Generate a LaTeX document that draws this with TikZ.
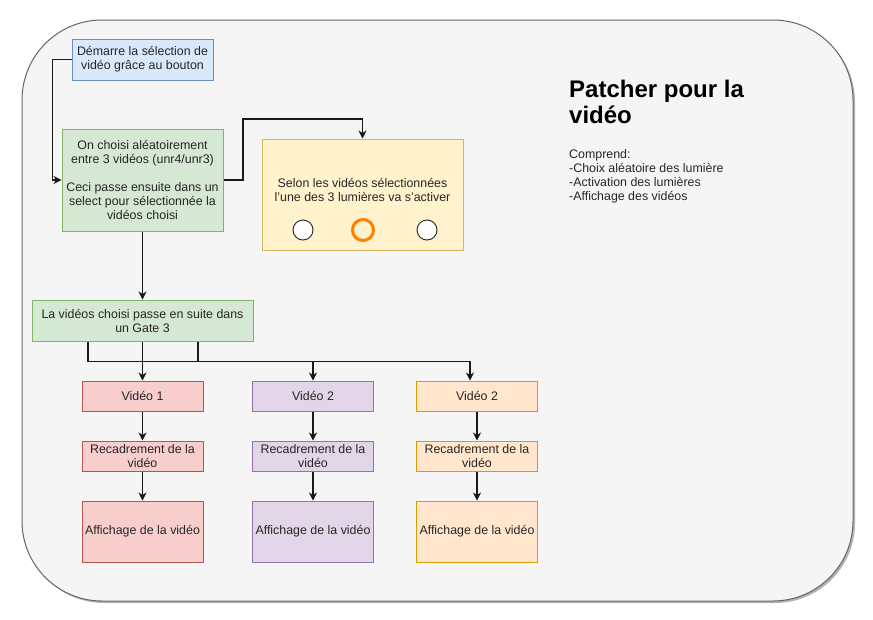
\documentclass[tikz,border=0pt]{standalone}
\usepackage{fontspec}
\setmainfont{Liberation Sans}
\usetikzlibrary{arrows.meta,calc}
\definecolor{bgfill}{HTML}{F5F5F5}
\definecolor{bgline}{HTML}{666666}
\definecolor{bluefill}{HTML}{DAE8FC}
\definecolor{blueline}{HTML}{6C8EBF}
\definecolor{greenfill}{HTML}{D5E8D4}
\definecolor{greenline}{HTML}{82B366}
\definecolor{yellowfill}{HTML}{FFF2CC}
\definecolor{yellowline}{HTML}{D6B656}
\definecolor{redfill}{HTML}{F8CECC}
\definecolor{redline}{HTML}{B85450}
\definecolor{purplefill}{HTML}{E1D5E7}
\definecolor{purpleline}{HTML}{9673A6}
\definecolor{orangefill}{HTML}{FFE6CC}
\definecolor{orangeline}{HTML}{D79B00}
\definecolor{lighton}{HTML}{FF8000}
\tikzset{
  txt/.style={font=\fontsize{12.4}{14}\selectfont, text=black!85},
  box/.style={draw, line width=1pt, txt, align=center, inner sep=2pt},
  bluebox/.style={box, fill=bluefill, draw=blueline},
  greenbox/.style={box, fill=greenfill, draw=greenline},
  yellowbox/.style={box, fill=yellowfill, draw=yellowline},
  redbox/.style={box, fill=redfill, draw=redline},
  purplebox/.style={box, fill=purplefill, draw=purpleline},
  orangebox/.style={box, fill=orangefill, draw=orangeline},
  smallbox/.style={minimum width=121pt, minimum height=30pt},
  bigbox/.style={minimum width=121pt, minimum height=61pt},
  lamp/.style={circle, draw=black!80, fill=white, line width=1pt, minimum size=20pt, inner sep=0pt},
  lampon/.style={circle, draw=lighton, line width=3pt, minimum size=21pt, inner sep=0pt},
  arr/.style={draw=black!90, line width=1.1pt, -{Stealth[length=8pt,width=8pt,inset=2.5pt]}},
}
\begin{document}
\begin{tikzpicture}[x=1pt,y=-1pt]
\useasboundingbox[fill=white] (0,0) rectangle (873,619);
% container
\fill[black!30, rounded corners=80pt] (24,22) rectangle (855,603);
\draw[fill=bgfill, draw=bgline, line width=1pt, rounded corners=80pt] (22,20) rectangle (853,601);

% top nodes
\node[bluebox, minimum width=141pt, minimum height=41pt] (start) at (142.5,59.5)
  {Démarre la sélection de\\vidéo grâce au bouton};
\node[greenbox, minimum width=161pt, minimum height=102pt] (rand) at (142.5,180)
  {On choisi aléatoirement\\entre 3 vidéos (unr4/unr3)\\[14pt]Ceci passe ensuite dans un\\select pour sélectionnée la\\vidéos choisi};
\node[yellowbox, minimum width=201pt, minimum height=111pt] (lights) at (362.5,194.5) {};
\node[txt, align=center] (lighttxt) at (362.5,189.5)
  {Selon les vidéos sélectionnées\\l'une des 3 lumières va s'activer};
\node[lamp] (l1) at (303,230) {};
\node[lampon] (l2) at (363,230) {};
\node[lamp] (l3) at (427,230) {};

\node[greenbox, minimum width=221pt, minimum height=41pt] (gate) at (142.5,320.5)
  {La vidéos choisi passe en suite dans\\un Gate 3};

% columns
\node[redbox, smallbox] (v1) at (142.5,396) {Vidéo 1};
\node[purplebox, smallbox] (v2) at (313,396) {Vidéo 2};
\node[orangebox, smallbox] (v3) at (477,396) {Vidéo 2};
\node[redbox, smallbox] (r1) at (142.5,456) {Recadrement de la\\vidéo};
\node[purplebox, smallbox] (r2) at (313,456) {Recadrement de la\\vidéo};
\node[orangebox, smallbox] (r3) at (477,456) {Recadrement de la\\vidéo};
\node[redbox, bigbox] (a1) at (142.5,531.5) {Affichage de la vidéo};
\node[purplebox, bigbox] (a2) at (313,531.5) {Affichage de la vidéo};
\node[orangebox, bigbox] (a3) at (477,531.5) {Affichage de la vidéo};

% title and description
\node[anchor=north west, inner sep=0pt, align=left, text=black,
      font=\bfseries\fontsize{24}{26}\selectfont] (title) at (569,80)
  {Patcher pour la\\vidéo};
\node[anchor=north west, inner sep=0pt, align=left, txt] (desc) at (569,149)
  {Comprend:\\-Choix aléatoire des lumière\\-Activation des lumières\\-Affichage des vidéos};

% connectors
\draw[arr] (start.west) -- ++(-19,0) |- (rand.west);
\draw[arr] (rand.east) -| (243,119) -| (lights.north);
\draw[arr] (rand.south) -- (gate.north);
\draw[arr] ([xshift=-54.5pt]gate.south) -- ++(0,20) -| (v2.north);
\draw[arr] (gate.south) -- (v1.north);
\draw[arr] ([xshift=55.5pt]gate.south) -- ++(0,20) -| ([xshift=-7pt]v3.north);
\draw[arr] (v1.south) -- (r1.north);
\draw[arr] (v2.south) -- (r2.north);
\draw[arr] (v3.south) -- (r3.north);
\draw[arr] (r1.south) -- (a1.north);
\draw[arr] (r2.south) -- (a2.north);
\draw[arr] (r3.south) -- (a3.north);
\end{tikzpicture}
\end{document}
